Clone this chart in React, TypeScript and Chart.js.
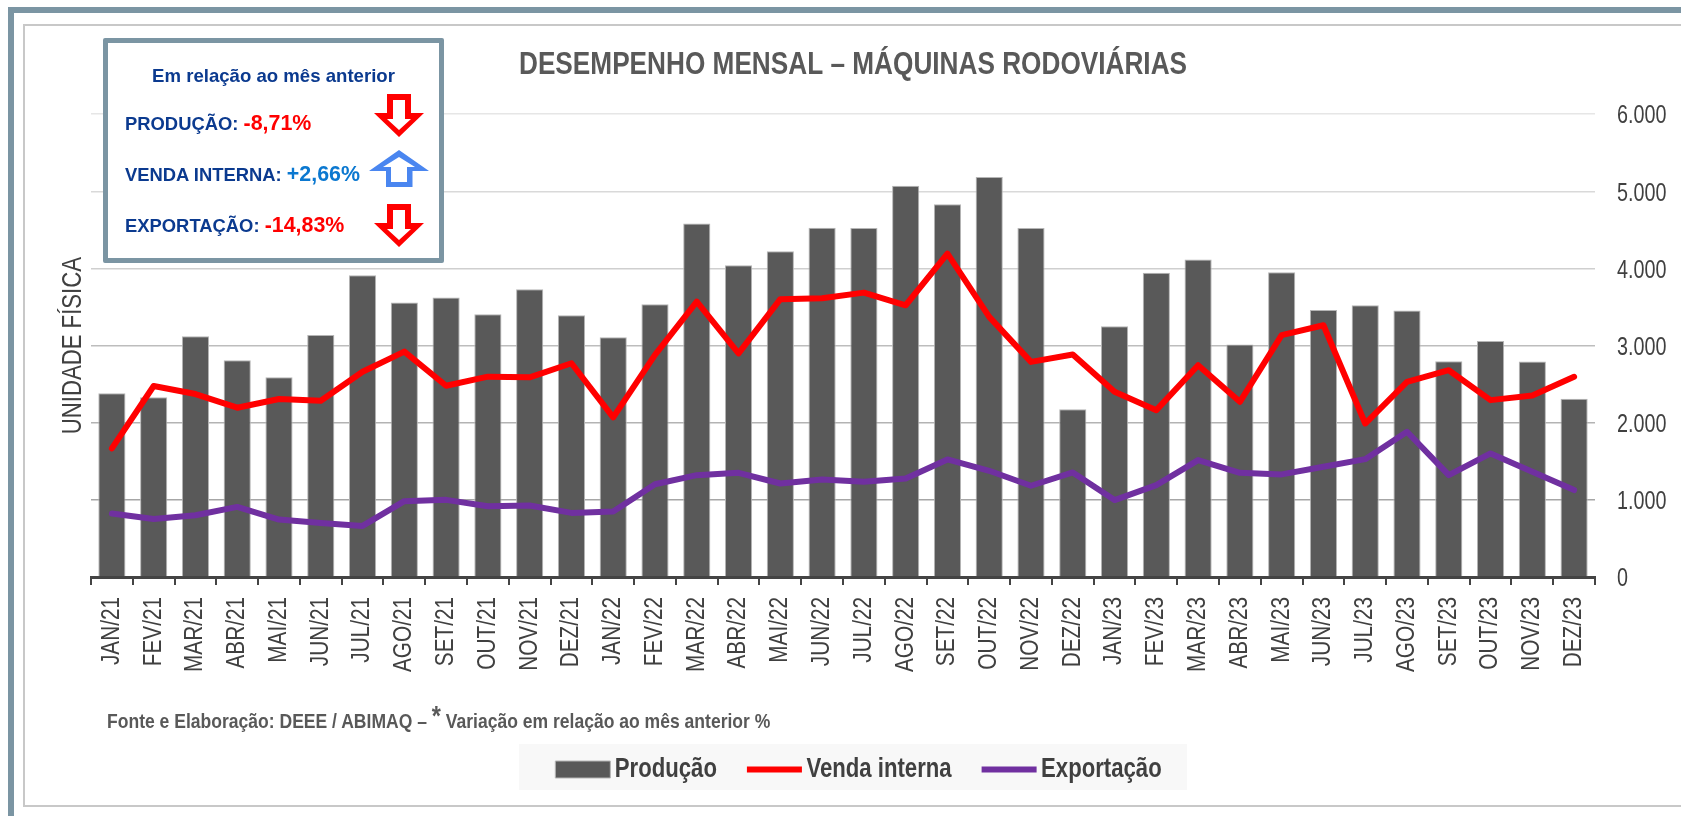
import React, { useEffect, useRef } from "react";
import { Chart, registerables } from "chart.js";

Chart.register(...registerables);

const categories = ["JAN/21","FEV/21","MAR/21","ABR/21","MAI/21","JUN/21","JUL/21","AGO/21","SET/21","OUT/21","NOV/21","DEZ/21","JAN/22","FEV/22","MAR/22","ABR/22","MAI/22","JUN/22","JUL/22","AGO/22","SET/22","OUT/22","NOV/22","DEZ/22","JAN/23","FEV/23","MAR/23","ABR/23","MAI/23","JUN/23","JUL/23","AGO/23","SET/23","OUT/23","NOV/23","DEZ/23"];
const producao = [2381,2329,3121,2810,2589,3139,3913,3558,3623,3407,3732,3394,3108,3537,4583,4042,4222,4528,4525,5073,4832,5186,4525,2176,3251,3946,4115,3014,3951,3463,3523,3454,2798,3061,2794,2310];
const vendaInterna = [1667,2476,2372,2195,2307,2286,2662,2922,2480,2597,2589,2771,2069,2879,3571,2900,3602,3615,3687,3523,4193,3372,2789,2884,2401,2163,2746,2271,3135,3264,1990,2530,2681,2293,2353,2595];
const exportacao = [822,753,801,909,745,701,662,983,1000,918,926,831,848,1203,1320,1351,1212,1264,1235,1278,1524,1377,1183,1356,997,1192,1516,1351,1330,1429,1528,1883,1321,1602,1364,1127];
const yTicks = ["0","1.000","2.000","3.000","4.000","5.000","6.000"];
const gridColors = ["#a0a0a0","#a6a6a6","#b3b3b3","#bdbdbd","#cfcfcf","#d9d9d9","#e6e6e6"];
const seriesNames = ["Produção","Venda interna","Exportação"];

// The reference uses condensed type. No condensed face is installed, so family tags choose how far the
// canvas squeezes a Liberation Sans string horizontally, and fillText's maxWidth does the squeezing.
const SANS = '"Liberation Sans", Arial, sans-serif';
const squeeze: Record<string, number> = { TickX: 0.83, TickY: 0.76, AxisT: 0.82, TitleC: 0.845, LegendC: 0.82 };
const fam = (tag: string) => `${tag}, ${SANS}`;
const BLUE = "#0b3a8f";

function condense(ctx: any) {
  const measure = ctx.measureText.bind(ctx);
  const fill = ctx.fillText.bind(ctx);
  const factor = () => {
    const key = Object.keys(squeeze).find((k) => ctx.font.includes(k));
    return key ? squeeze[key] : 1;
  };
  ctx.measureText = (t: string) => {
    const m = measure(t);
    const k = factor();
    return k === 1 ? m : { width: m.width * k, actualBoundingBoxAscent: m.actualBoundingBoxAscent, actualBoundingBoxDescent: m.actualBoundingBoxDescent };
  };
  ctx.fillText = (t: string, x: number, y: number) => {
    const k = factor();
    const dx = seriesNames.includes(t) ? -9 : 0;
    if (k === 1) fill(t, x, y);
    else fill(t, x + dx, y, measure(t).width * k);
  };
}

const nudgeLegend = {
  id: "nudgeLegend",
  afterLayout(c: any) {
    c.legend.left += 10;
    c.legend.right += 10;
  },
};

const abs = (s: React.CSSProperties): React.CSSProperties => ({ position: "absolute", whiteSpace: "nowrap", ...s });

function Down({ top }: { top: number }) {
  return (
    <svg style={abs({ left: 374, top, width: 50, height: 43 })} viewBox="0 0 50 43">
      <path d="M13 0H37V19H50L25 43L0 19H13Z" fill="#ff0000" />
      <path d="M19 6H31V25H37L25 36L13 25H19Z" fill="#fff" />
    </svg>
  );
}

function Up({ top }: { top: number }) {
  return (
    <svg style={abs({ left: 369, top, width: 60, height: 37 })} viewBox="0 0 60 37">
      <path d="M30 0L60 21H43.5V37H17V21H0Z" fill="#4a86f0" />
      <path d="M30 7L46 17H38V32H22V17H14Z" fill="#fff" />
    </svg>
  );
}

export default function App() {
  const ref = useRef<HTMLCanvasElement>(null);
  useEffect(() => {
    document.body.style.margin = "0";
    const fix = (h?: number, w?: number) => (s: any) => {
      if (h !== undefined) s.height = h;
      if (w !== undefined) s.width = w;
      s.paddingTop = 0; s.paddingBottom = 0; s.paddingLeft = 0; s.paddingRight = 0;
    };
    condense(ref.current!.getContext("2d"));
    const chart = new Chart(ref.current!, {
      type: "bar",
      plugins: [nudgeLegend],
      data: {
        labels: categories,
        datasets: [
          { type: "bar", label: seriesNames[0], data: producao, backgroundColor: "#595959", borderColor: "#b5b5b5", borderWidth: 1, barPercentage: 0.65, categoryPercentage: 1, order: 3, pointStyle: "rect", yAxisID: "y" },
          { type: "line", label: seriesNames[1], data: vendaInterna, borderColor: "#ff0000", backgroundColor: "#ff0000", borderWidth: 6, pointRadius: 0, tension: 0, order: 1, pointStyle: "line", borderCapStyle: "round", borderJoinStyle: "round", yAxisID: "y" },
          { type: "line", label: seriesNames[2], data: exportacao, borderColor: "#7030a0", backgroundColor: "#7030a0", borderWidth: 6, pointRadius: 0, tension: 0, order: 2, pointStyle: "line", borderCapStyle: "round", borderJoinStyle: "round", yAxisID: "y" },
        ] as any,
      },
      options: {
        animation: false,
        responsive: false,
        layout: { padding: { left: 25, right: 0, top: 47, bottom: 23 } },
        scales: {
          x: {
            offset: true,
            afterFit: fix(158),
            grid: { drawOnChartArea: false, drawTicks: true, tickLength: 8, color: "#444", lineWidth: 2, offset: true },
            border: { color: "#444", width: 3 },
            ticks: { minRotation: 90, maxRotation: 90, autoSkip: false, padding: 12, color: "#404040", font: { family: fam("TickX"), size: 25 } },
          },
          y: {
            position: "right",
            min: 0, max: 6000,
            afterFit: fix(undefined, 86),
            grid: { color: (c: any) => gridColors[c.index] ?? "#d9d9d9", lineWidth: 1.5, drawTicks: false },
            border: { display: false },
            ticks: {
              stepSize: 1000, padding: 22, labelOffset: 2, color: "#404040",
              font: { family: fam("TickY"), size: 26 },
              callback: (_v: any, i: number) => yTicks[i],
            },
          },
          yTitle: {
            position: "left",
            min: 0, max: 6000,
            afterFit: fix(undefined, 66),
            grid: { display: false },
            border: { display: false },
            ticks: { display: false },
            title: { display: true, text: "UNIDADE FÍSICA", color: "#404040", font: { family: fam("AxisT"), size: 27 }, padding: { top: 32, bottom: 0 } },
          },
        },
        plugins: {
          title: { display: true, text: "DESEMPENHO MENSAL – MÁQUINAS RODOVIÁRIAS", color: "#595959", font: { family: fam("TitleC"), size: 31, weight: "bold", lineHeight: 1.2 }, padding: { top: 0, bottom: 30 } },
          legend: {
            position: "bottom",
            labels: {
              usePointStyle: true, pointStyleWidth: 55, boxHeight: 17, padding: 21, color: "#404040",
              font: { family: fam("LegendC"), size: 27, weight: "bold" },
              sort: (a: any, b: any) => a.datasetIndex - b.datasetIndex,
            },
          },
          tooltip: { enabled: false },
        },
      } as any,
    });
    return () => chart.destroy();
  }, []);

  const label = (top: number, name: string, value: string, color: string) => (
    <div style={abs({ left: 125, top, font: `bold 18.4px ${SANS}`, color: BLUE, lineHeight: "26px" })}>
      {name} <span style={{ color, fontSize: 21.4 }}>{value}</span>
    </div>
  );

  return (
    <div style={{ position: "relative", width: 1681, height: 816, overflow: "hidden", background: "#fff", fontFamily: SANS }}>
      <div style={abs({ left: 8, top: 7, width: 1673, height: 809, borderLeft: "6px solid #7b95a3", borderTop: "6px solid #7b95a3", boxSizing: "border-box" })} />
      <div style={abs({ left: 23, top: 24, width: 1658, height: 783, borderLeft: "2px solid #c8c8c8", borderTop: "2px solid #c8c8c8", borderBottom: "2px solid #c8c8c8", boxSizing: "border-box" })} />
      <div style={abs({ left: 519, top: 744, width: 668, height: 46, background: "#f8f8f8" })} />
      <canvas ref={ref} width={1681} height={816} style={{ position: "absolute", left: 0, top: 0, width: 1681, height: 816 }} />
      <div style={abs({ left: 107, top: 706, font: `bold 21px ${SANS}`, color: "#595959", lineHeight: "26px", transform: "scaleX(0.835)", transformOrigin: "left center" })}>
        Fonte e Elaboração: DEEE / ABIMAQ – <span style={{ fontSize: 28, position: "relative", top: -3 }}>*</span> Variação em relação ao mês anterior %
      </div>
      <div style={abs({ left: 103, top: 38, width: 341, height: 225, border: "5px solid #7b95a3", borderRadius: 2, boxSizing: "border-box", background: "#fff" })} />
      <div style={abs({ left: 103, width: 341, top: 65, textAlign: "center", font: `bold 18.6px ${SANS}`, color: BLUE, lineHeight: "22px" })}>Em relação ao mês anterior</div>
      {label(110, "PRODUÇÃO:", "-8,71%", "#ff0000")}
      {label(161, "VENDA INTERNA:", "+2,66%", "#0b78d0")}
      {label(212, "EXPORTAÇÃO:", "-14,83%", "#ff0000")}
      <Down top={94} />
      <Up top={150} />
      <Down top={204} />
    </div>
  );
}
